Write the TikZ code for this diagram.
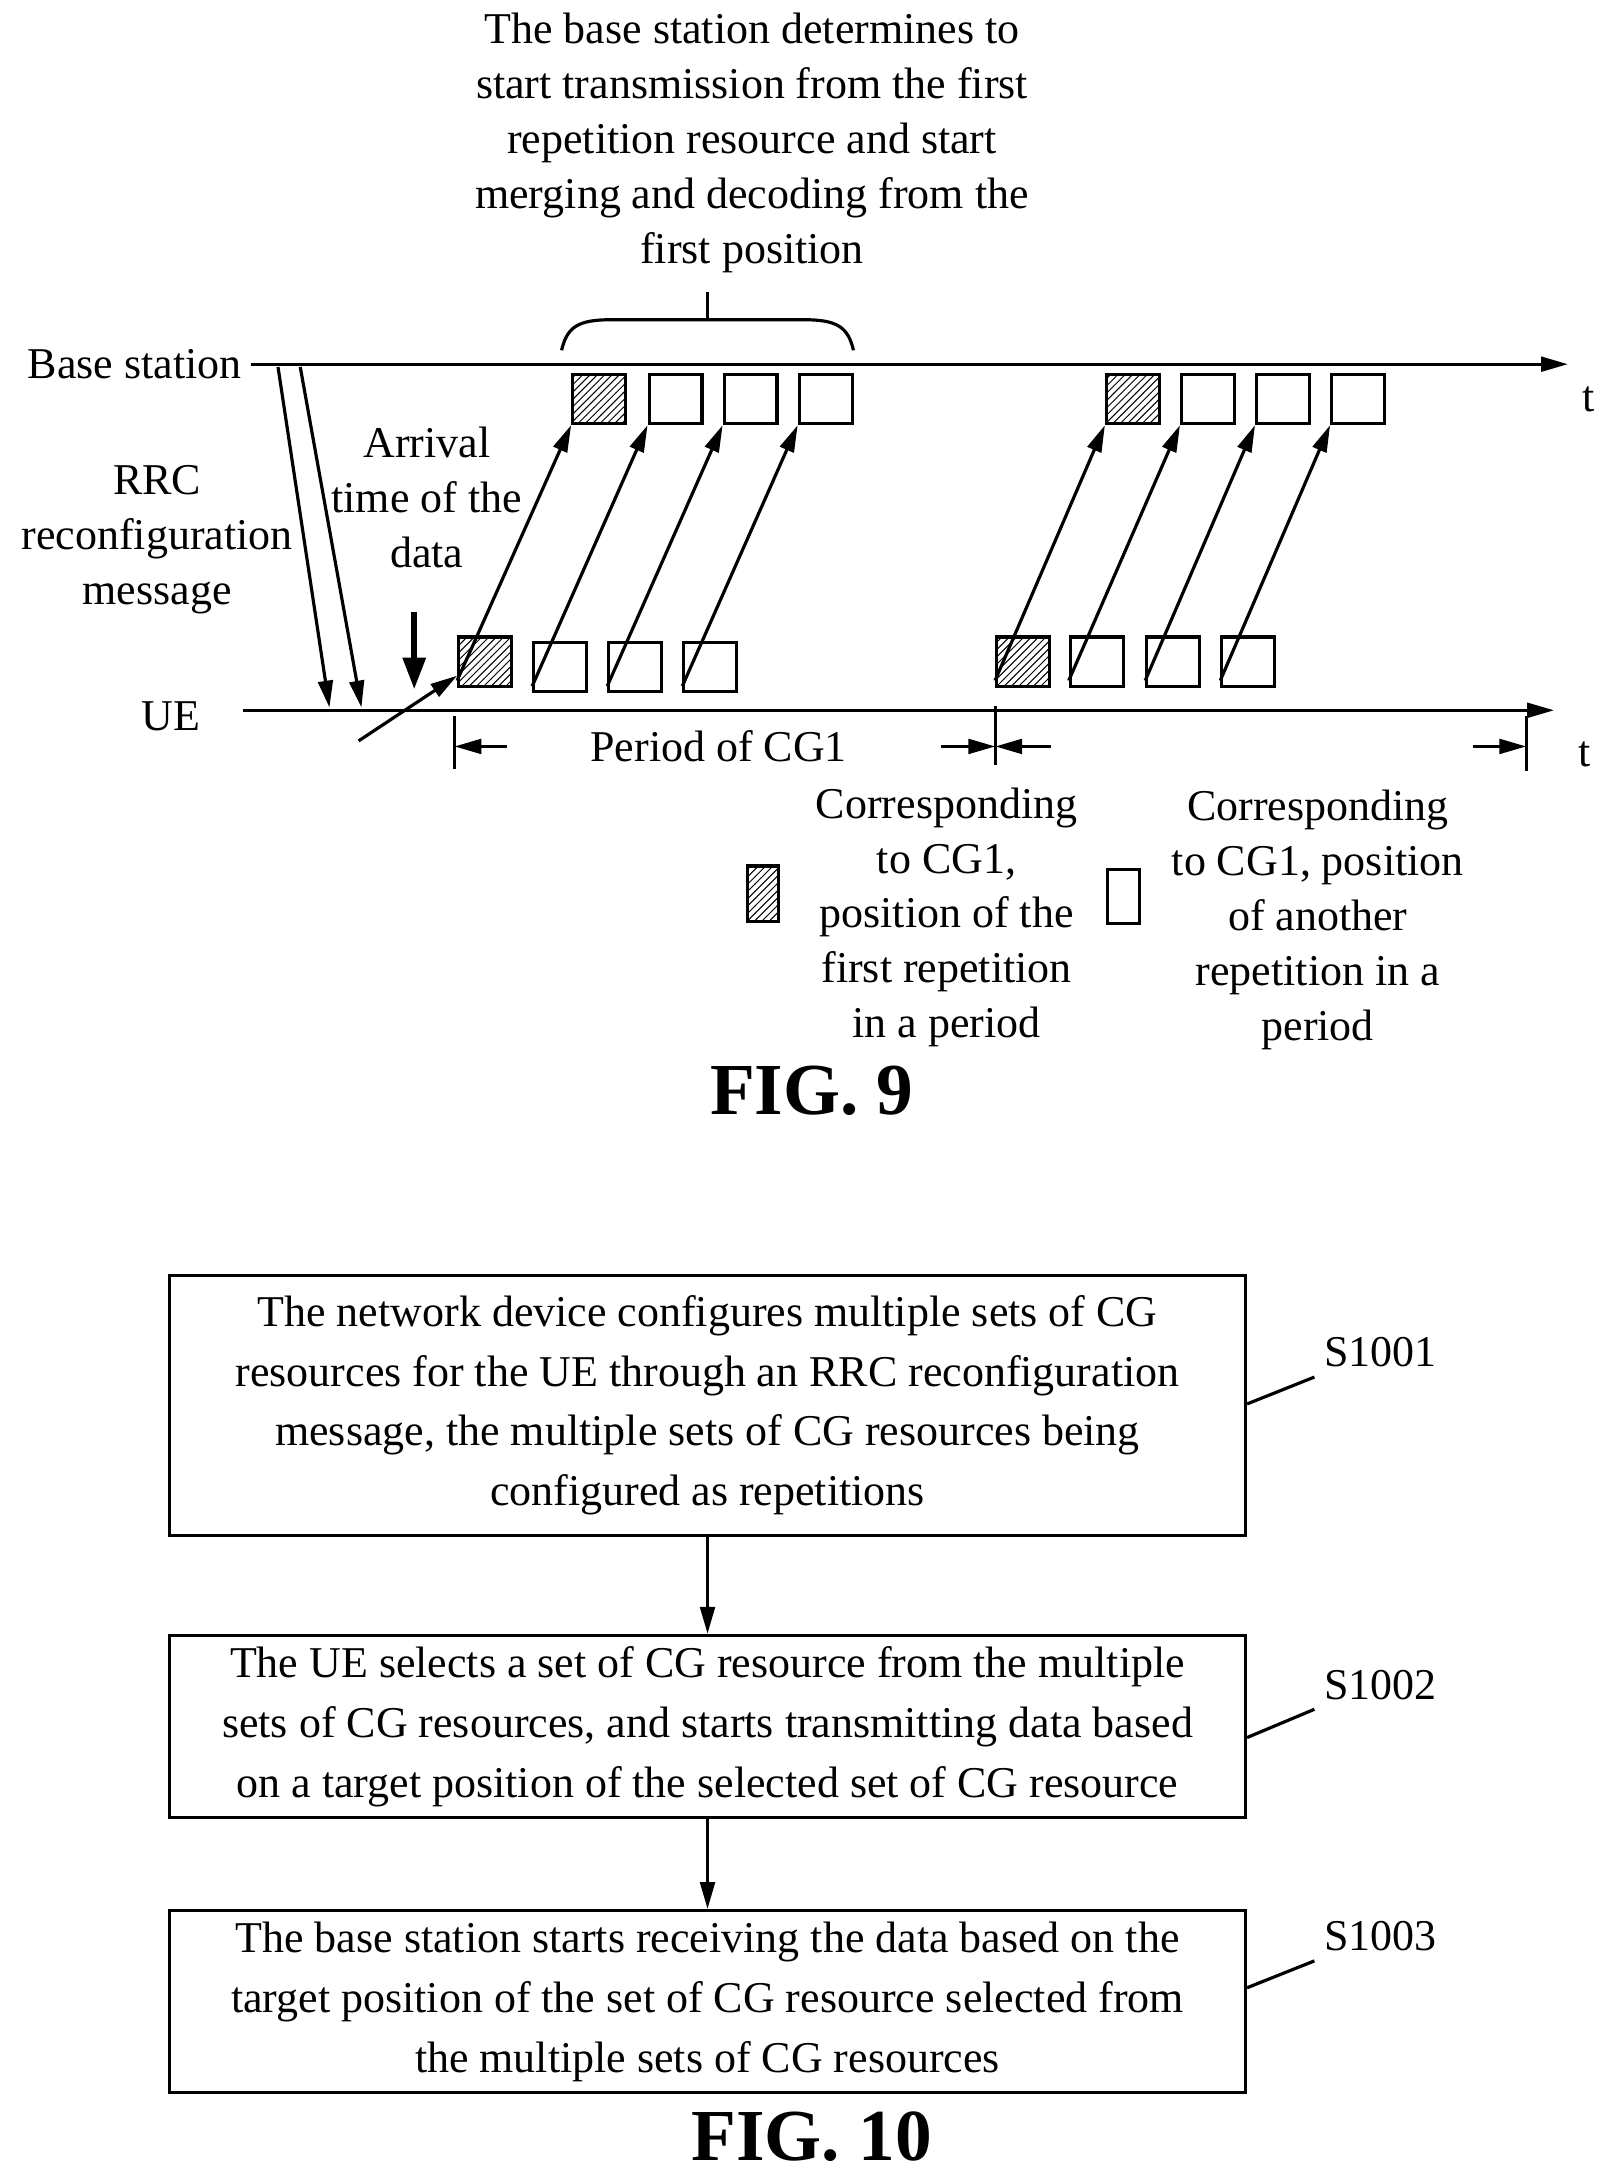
\documentclass[tikz,border=0pt]{standalone}
\usepackage{fontspec}
\setmainfont{Liberation Serif}
\usetikzlibrary{positioning,patterns,arrows.meta}
\begin{document}
\begin{tikzpicture}[x=0.2mm,y=-0.2mm,
    font=\fontsize{18}{22.5}\selectfont,
    every path/.style={line width=1.3pt},
    arr/.style={-{Triangle[length=11pt,width=6pt]}},
    slot/.style={draw,line width=1.3pt,minimum width=7.6mm,minimum height=7.1mm,inner sep=0pt},
    first/.style={slot,pattern=north east lines},
    flowbox/.style={draw,line width=1.3pt,minimum width=154.8mm,align=center,inner sep=0pt,font=\fontsize{18}{24.5}\selectfont}]
  \useasboundingbox (0,0) rectangle (1160,1564);

  % time lines
  \node (bs) at (97,262) {Base station};
  \node (ue) at (123,515) {UE};
  \coordinate (bsend) at (1128,262);
  \coordinate (ueend) at (1118,511);
  \draw[arr] (bs.east) -- (bsend);
  \draw[arr] (175,511) -- (ueend);
  \node at (1143,287) {t};
  \node at (1140,543) {t};

  % repetition slots
  \foreach \i/\x in {1/431,2/486,3/540,4/594} {\node[slot] (b\i) at (\x,287) {};}
  \foreach \i/\x in {1/815,2/869,3/923,4/977} {\node[slot] (c\i) at (\x,287) {};}
  \node[first] (u1) at (349,476) {};
  \foreach \i/\x in {2/403,3/457,4/511} {\node[slot] (u\i) at (\x,480) {};}
  \node[first] (v1) at (736,476) {};
  \foreach \i/\x in {2/789,3/844,4/898} {\node[slot] (v\i) at (\x,476) {};}
  \node[first] at (b1) {};
  \node[first] at (c1) {};

  \foreach \i in {1,...,4} {
    \draw[arr] ([yshift=3pt]u\i.south west) -- (b\i.south west);
    \draw[arr] ([yshift=3pt]v\i.south west) -- (c\i.south west);
  }

  % RRC message
  \draw[arr] (200,264) -- (237,509);
  \draw[arr] (216,264) -- (260,509);
  \node[align=center] (rrc) at (113,388) {RRC\\reconfiguration\\message};

  % arrival of data
  \node[align=center] (arr) at (307,358) {Arrival\\time of the\\data};
  \draw[-{Triangle[length=13pt,width=9pt]},line width=2.5pt] (298,440) -- (298,496);
  \coordinate (pin) at (258,533);
  \draw[arr] (pin) -- ([yshift=5pt]u1.south west);

  % brace
  \draw (404,252) .. controls (408,235) and (416,230) .. (440,230) -- (578,230)
        .. controls (602,230) and (610,235) .. (614,252);
  \draw (509,230) -- (509,210);
  \node[align=center] (note) at (541,103) {The base station determines to\\start transmission from the first\\repetition resource and start\\merging and decoding from the\\first position};

  % period
  \draw (327,515) -- (327,553);
  \draw (716,508) -- (716,550);
  \draw (1098,515) -- (1098,555);
  \draw[arr] (365,537) -- (327,537);
  \draw[arr] (677,537) -- (716,537);
  \draw[arr] (756,537) -- (716,537);
  \draw[arr] (1060,537) -- (1098,537);
  \node (per) at (517,537) {Period of CG1};

  % legend
  \node[first,minimum width=4.4mm,minimum height=8mm] (lg1) at (549,643) {};
  \node[align=center] (lt1) at (681,660) {Corresponding\\to CG1,\\position of the\\first repetition\\in a period};
  \node[slot,minimum width=4.6mm,minimum height=7.8mm] (lg2) at (808,645) {};
  \node[align=center] (lt2) at (948,662) {Corresponding\\to CG1, position\\of another\\repetition in a\\period};
  \node[font=\fontsize{30}{30}\selectfont\bfseries] (fig9) at (584,785) {FIG. 9};

  % flow chart
  \node[flowbox,minimum height=37.4mm] (s1) at (509,1011) {The network device configures multiple sets of CG\\resources for the UE through an RRC reconfiguration\\message, the multiple sets of CG resources being\\configured as repetitions};
  \node[flowbox,minimum height=26.2mm] (s2) at (509,1242) {The UE selects a set of CG resource from the multiple\\sets of CG resources, and starts transmitting data based\\on a target position of the selected set of CG resource};
  \node[flowbox,minimum height=26.2mm] (s3) at (509,1440) {The base station starts receiving the data based on the\\target position of the set of CG resource selected from\\the multiple sets of CG resources};
  \draw[arr] (s1) -- (s2);
  \draw[arr] (s2) -- (s3);
  \node (l1) at (993,973) {S1001};
  \node (l2) at (993,1212) {S1002};
  \node (l3) at (993,1393) {S1003};
  \draw (s1.east |- 0,1010) -- (l1.south west);
  \draw (s2.east |- 0,1250) -- (l2.south west);
  \draw (s3.east |- 0,1430) -- (l3.south west);
  \node[font=\fontsize{30}{30}\selectfont\bfseries] (fig10) at (584,1537) {FIG. 10};
\end{tikzpicture}
\end{document}
